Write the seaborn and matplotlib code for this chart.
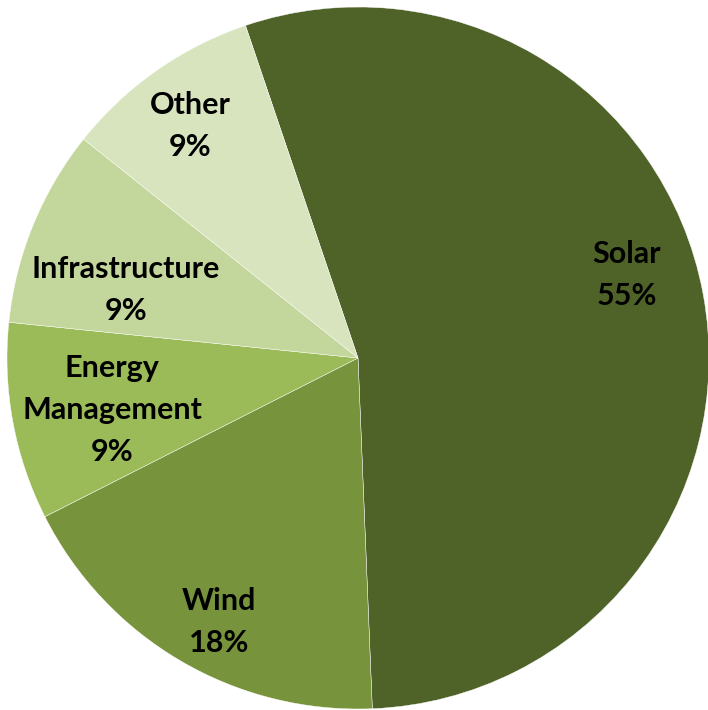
import matplotlib
matplotlib.use("Agg")
import matplotlib.pyplot as plt
import seaborn as sns

sns.set_theme(style="white")
plt.rcParams['font.family'] = ['Lato', 'DejaVu Sans']

categories = ["Solar", "Wind", "Energy\nManagement", "Infrastructure", "Other"]
values = [6, 2, 1, 1, 1]
pct_labels = ["55%", "18%", "9%", "9%", "9%"]
colors = ["#4f6228", "#77933c", "#9bbb59", "#c3d69b", "#d7e4bd"]
label_pos = [(269, 83), (-139, -264), (-246, -52), (-232, 68), (-168, 232)]

fig = plt.figure(figsize=(7.08, 7.10), dpi=100)
ax = fig.add_axes([0, 0, 1, 1])
ax.pie(values, colors=colors, startangle=108.7, counterclock=False,
       radius=351, center=(0, 0), wedgeprops=dict(linewidth=0.3, edgecolor="white"))
ax.set_xlim(-358, 350)
ax.set_ylim(-352, 358)
ax.set_aspect("equal")
ax.axis("off")

for cat, pct, (x, y) in zip(categories, pct_labels, label_pos):
    ax.text(x, y, f"{cat}\n{pct}", ha="center", va="center", fontsize=22,
            fontweight="bold", color="black", linespacing=1.6)

fig.savefig("out.png", dpi=100)
